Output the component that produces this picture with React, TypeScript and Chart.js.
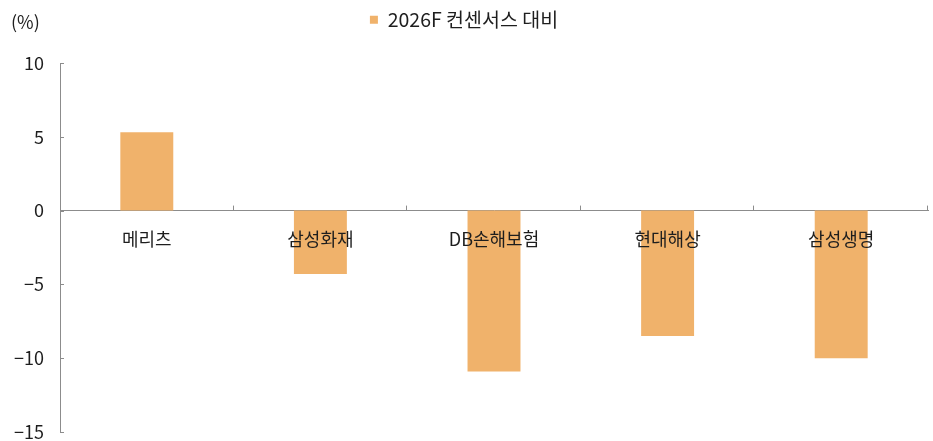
import { useEffect, useRef } from 'react';
import { Chart, registerables } from 'chart.js';

Chart.register(...registerables);

const categories = ['메리츠', '삼성화재', 'DB손해보험', '현대해상', '삼성생명'];
const seriesName = '2026F 컨센서스 대비';
const values = [5.3, -4.3, -10.9, -8.5, -10.0];
const yTickValues = [10, 5, 0, -5, -10, -15];
const unitLabel = '(%)';

const FONT = "'Noto Sans CJK KR', 'Noto Sans', sans-serif";
const BAR_COLOR = '#F0B26B';
const AXIS_COLOR = '#8C8C8C';
const TEXT_COLOR = '#1E1E1E';

const tickMarks = {
  id: 'tickMarks',
  beforeLayout(chart: any) {
    const lg = chart.legend;
    if (lg && !lg.__patched) {
      const orig = lg.fit;
      lg.fit = function () {
        orig.call(this);
        this.height = 63;
      };
      lg.__patched = true;
    }
  },
  afterDraw(chart: any) {
    const { ctx, chartArea } = chart;
    const x = chart.scales.x;
    const y = chart.scales.y;
    ctx.save();
    ctx.strokeStyle = AXIS_COLOR;
    ctx.lineWidth = 1;
    y.ticks.forEach((_: any, i: number) => {
      const py = Math.round(y.getPixelForTick(i)) + 0.5;
      ctx.beginPath();
      ctx.moveTo(chartArea.left, py);
      ctx.lineTo(chartArea.left + 4, py);
      ctx.stroke();
    });
    const zero = y.getPixelForValue(0);
    for (let i = 1; i <= categories.length; i++) {
      const px = Math.round(x.getPixelForValue(i - 0.5)) - 0.5;
      ctx.beginPath();
      ctx.moveTo(px, zero);
      ctx.lineTo(px, zero - 5);
      ctx.stroke();
    }
    ctx.fillStyle = TEXT_COLOR;
    ctx.font = `18px ${FONT}`;
    ctx.textAlign = 'left';
    ctx.textBaseline = 'middle';
    ctx.fillText(unitLabel, 11, 22);
    ctx.restore();
  },
};

export default function App() {
  const ref = useRef<HTMLCanvasElement>(null);
  useEffect(() => {
    document.body.style.margin = '0';
    const chart = new Chart(ref.current!, {
      type: 'bar',
      data: {
        labels: categories,
        datasets: [
          {
            label: seriesName,
            data: values,
            backgroundColor: BAR_COLOR,
            borderWidth: 0,
            categoryPercentage: 1,
            barPercentage: 0.305,
          },
        ],
      },
      options: {
        animation: false,
        responsive: false,
        layout: { padding: { left: 0, right: 5, top: 0, bottom: 9 } },
        plugins: {
          legend: {
            position: 'top',
            labels: {
              boxWidth: 8,
              boxHeight: 8,
              padding: 10,
              color: TEXT_COLOR,
              font: { family: FONT, size: 19.5 },
            },
          },
          tooltip: { enabled: false },
        },
        scales: {
          x: {
            position: { y: 0 } as any,
            afterFit(scale: any) {
              scale.height = 0;
            },
            grid: { display: false, drawTicks: false },
            border: { color: AXIS_COLOR, width: 1 },
            ticks: {
              z: 1,
              color: TEXT_COLOR,
              font: { family: FONT, size: 18 },
              padding: 18,
              maxRotation: 0,
              autoSkip: false,
            },
          },
          y: {
            min: -15,
            max: 10,
            afterBuildTicks(scale: any) {
              scale.ticks = yTickValues.map((v) => ({ value: v }));
            },
            afterFit(scale: any) {
              scale.width = 60;
              scale.paddingTop = 0;
              scale.paddingBottom = 0;
            },
            grid: { display: false, drawTicks: false },
            border: { color: AXIS_COLOR, width: 1 },
            ticks: {
              color: TEXT_COLOR,
              font: { family: FONT, size: 18 },
              padding: 16,
              callback: (v: any) => (Number(v) < 0 ? '−' + Math.abs(Number(v)) : String(v)),
            },
          },
        },
      },
      plugins: [tickMarks],
    });
    return () => chart.destroy();
  }, []);
  return (
    <div style={{ width: 933, height: 441 }}>
      <canvas ref={ref} width={933} height={441} style={{ display: 'block' }} />
    </div>
  );
}
